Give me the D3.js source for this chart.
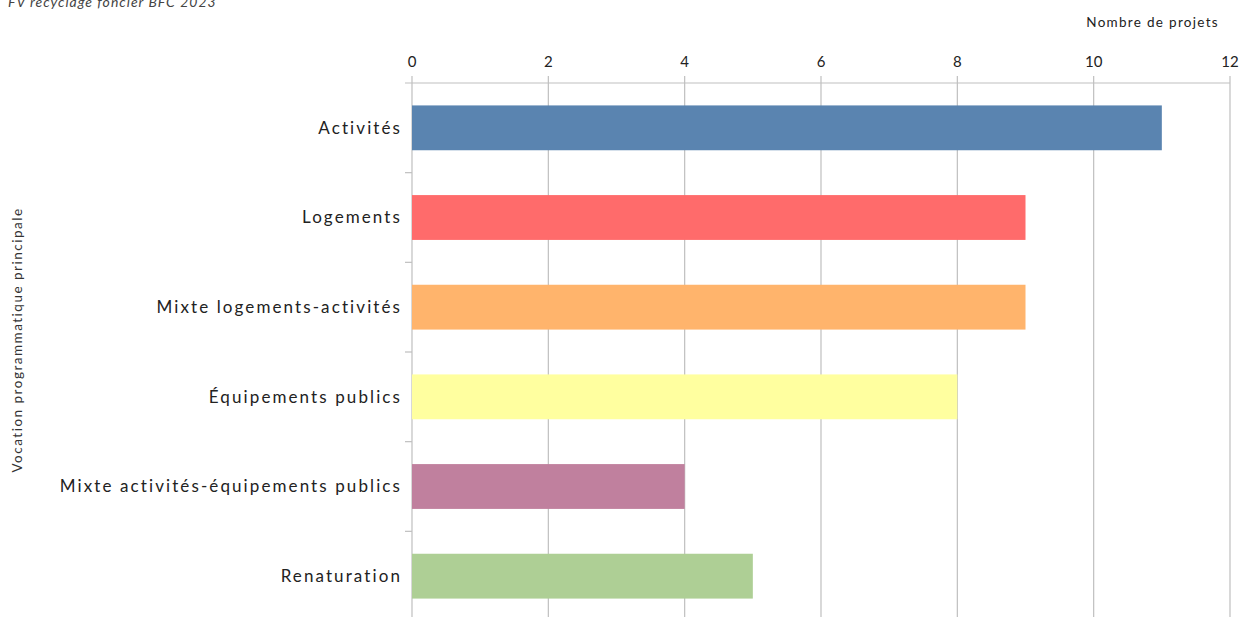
<!DOCTYPE html>
<html><head><meta charset="utf-8">
<script src="https://cdn.jsdelivr.net/npm/d3@7"></script>
<style>
html,body{margin:0;padding:0;background:#fff;}
svg{display:block;font-family:Lato,"Open Sans",sans-serif;}
</style></head>
<body>
<svg id="c" width="1240" height="617"></svg>
<script>
const categories = ["Activités","Logements","Mixte logements-activités","Équipements publics","Mixte activités-équipements publics","Renaturation"];
const values = [11, 9, 9, 8, 4, 5];
const colors = ["#5a84b0","#ff6b6b","#ffb46c","#ffff9f","#c0809e","#aecf95"];
const xTicks = [0,2,4,6,8,10,12];
const title = "FV recyclage foncier BFC 2023";
const xTitle = "Nombre de projets";
const yTitle = "Vocation programmatique principale";

(function(){
const svg = d3.select("#c");
const mLeft = 412, mRight = 1230, mTop = 83, mBottom = 621;
const x = d3.scaleLinear().domain([0,12]).range([mLeft,mRight]);
const y = d3.scaleBand().domain(categories).range([mTop,mBottom]).paddingInner(0.5).paddingOuter(0.25);

// gridlines
svg.append("g").selectAll("line").data(xTicks).join("line")
  .attr("x1",d=>x(d)).attr("x2",d=>x(d)).attr("y1",mTop-7).attr("y2",mBottom)
  .attr("stroke","#bfbfbf").attr("stroke-width",1.2);
// top axis line
svg.append("line").attr("x1",mLeft-7).attr("x2",mRight).attr("y1",mTop).attr("y2",mTop)
  .attr("stroke","#bfbfbf").attr("stroke-width",1.2);
// tick labels
svg.append("g").selectAll("text").data(xTicks).join("text")
  .attr("x",d=>x(d)).attr("y",mTop-16).attr("text-anchor","middle")
  .attr("font-size",15).attr("fill","#222").text(d=>d);

// y-axis category separator ticks
const step = y.step();
svg.append("g").selectAll("line").data(d3.range(1,categories.length)).join("line")
  .attr("x1",mLeft-7).attr("x2",mLeft).attr("y1",d=>mTop+d*step).attr("y2",d=>mTop+d*step)
  .attr("stroke","#bfbfbf").attr("stroke-width",1.2);

// bars
svg.append("g").selectAll("rect").data(categories).join("rect")
  .attr("x",x(0)).attr("y",d=>y(d)).attr("width",(d,i)=>x(values[i])-x(0)).attr("height",y.bandwidth())
  .attr("fill",(d,i)=>colors[i]);

// category labels
svg.append("g").selectAll("text").data(categories).join("text")
  .attr("x",mLeft-10).attr("y",d=>y(d)+y.bandwidth()/2).attr("dy","0.35em")
  .attr("text-anchor","end").attr("font-size",17).attr("fill","#222")
  .attr("letter-spacing","2.1px").text(d=>d);

// titles
svg.append("text").attr("x",8).attr("y",7).attr("font-size",14).attr("font-style","italic")
  .attr("letter-spacing","1px").attr("fill","#444").text(title);
svg.append("text").attr("x",1219).attr("y",27).attr("text-anchor","end").attr("font-size",13.5)
  .attr("letter-spacing","1.3px").attr("fill","#222").text(xTitle);
svg.append("text").attr("transform","translate(22,340) rotate(-90)").attr("text-anchor","middle")
  .attr("font-size",13.5).attr("letter-spacing","1.5px").attr("fill","#333").text(yTitle);
})();
</script>
</body></html>
